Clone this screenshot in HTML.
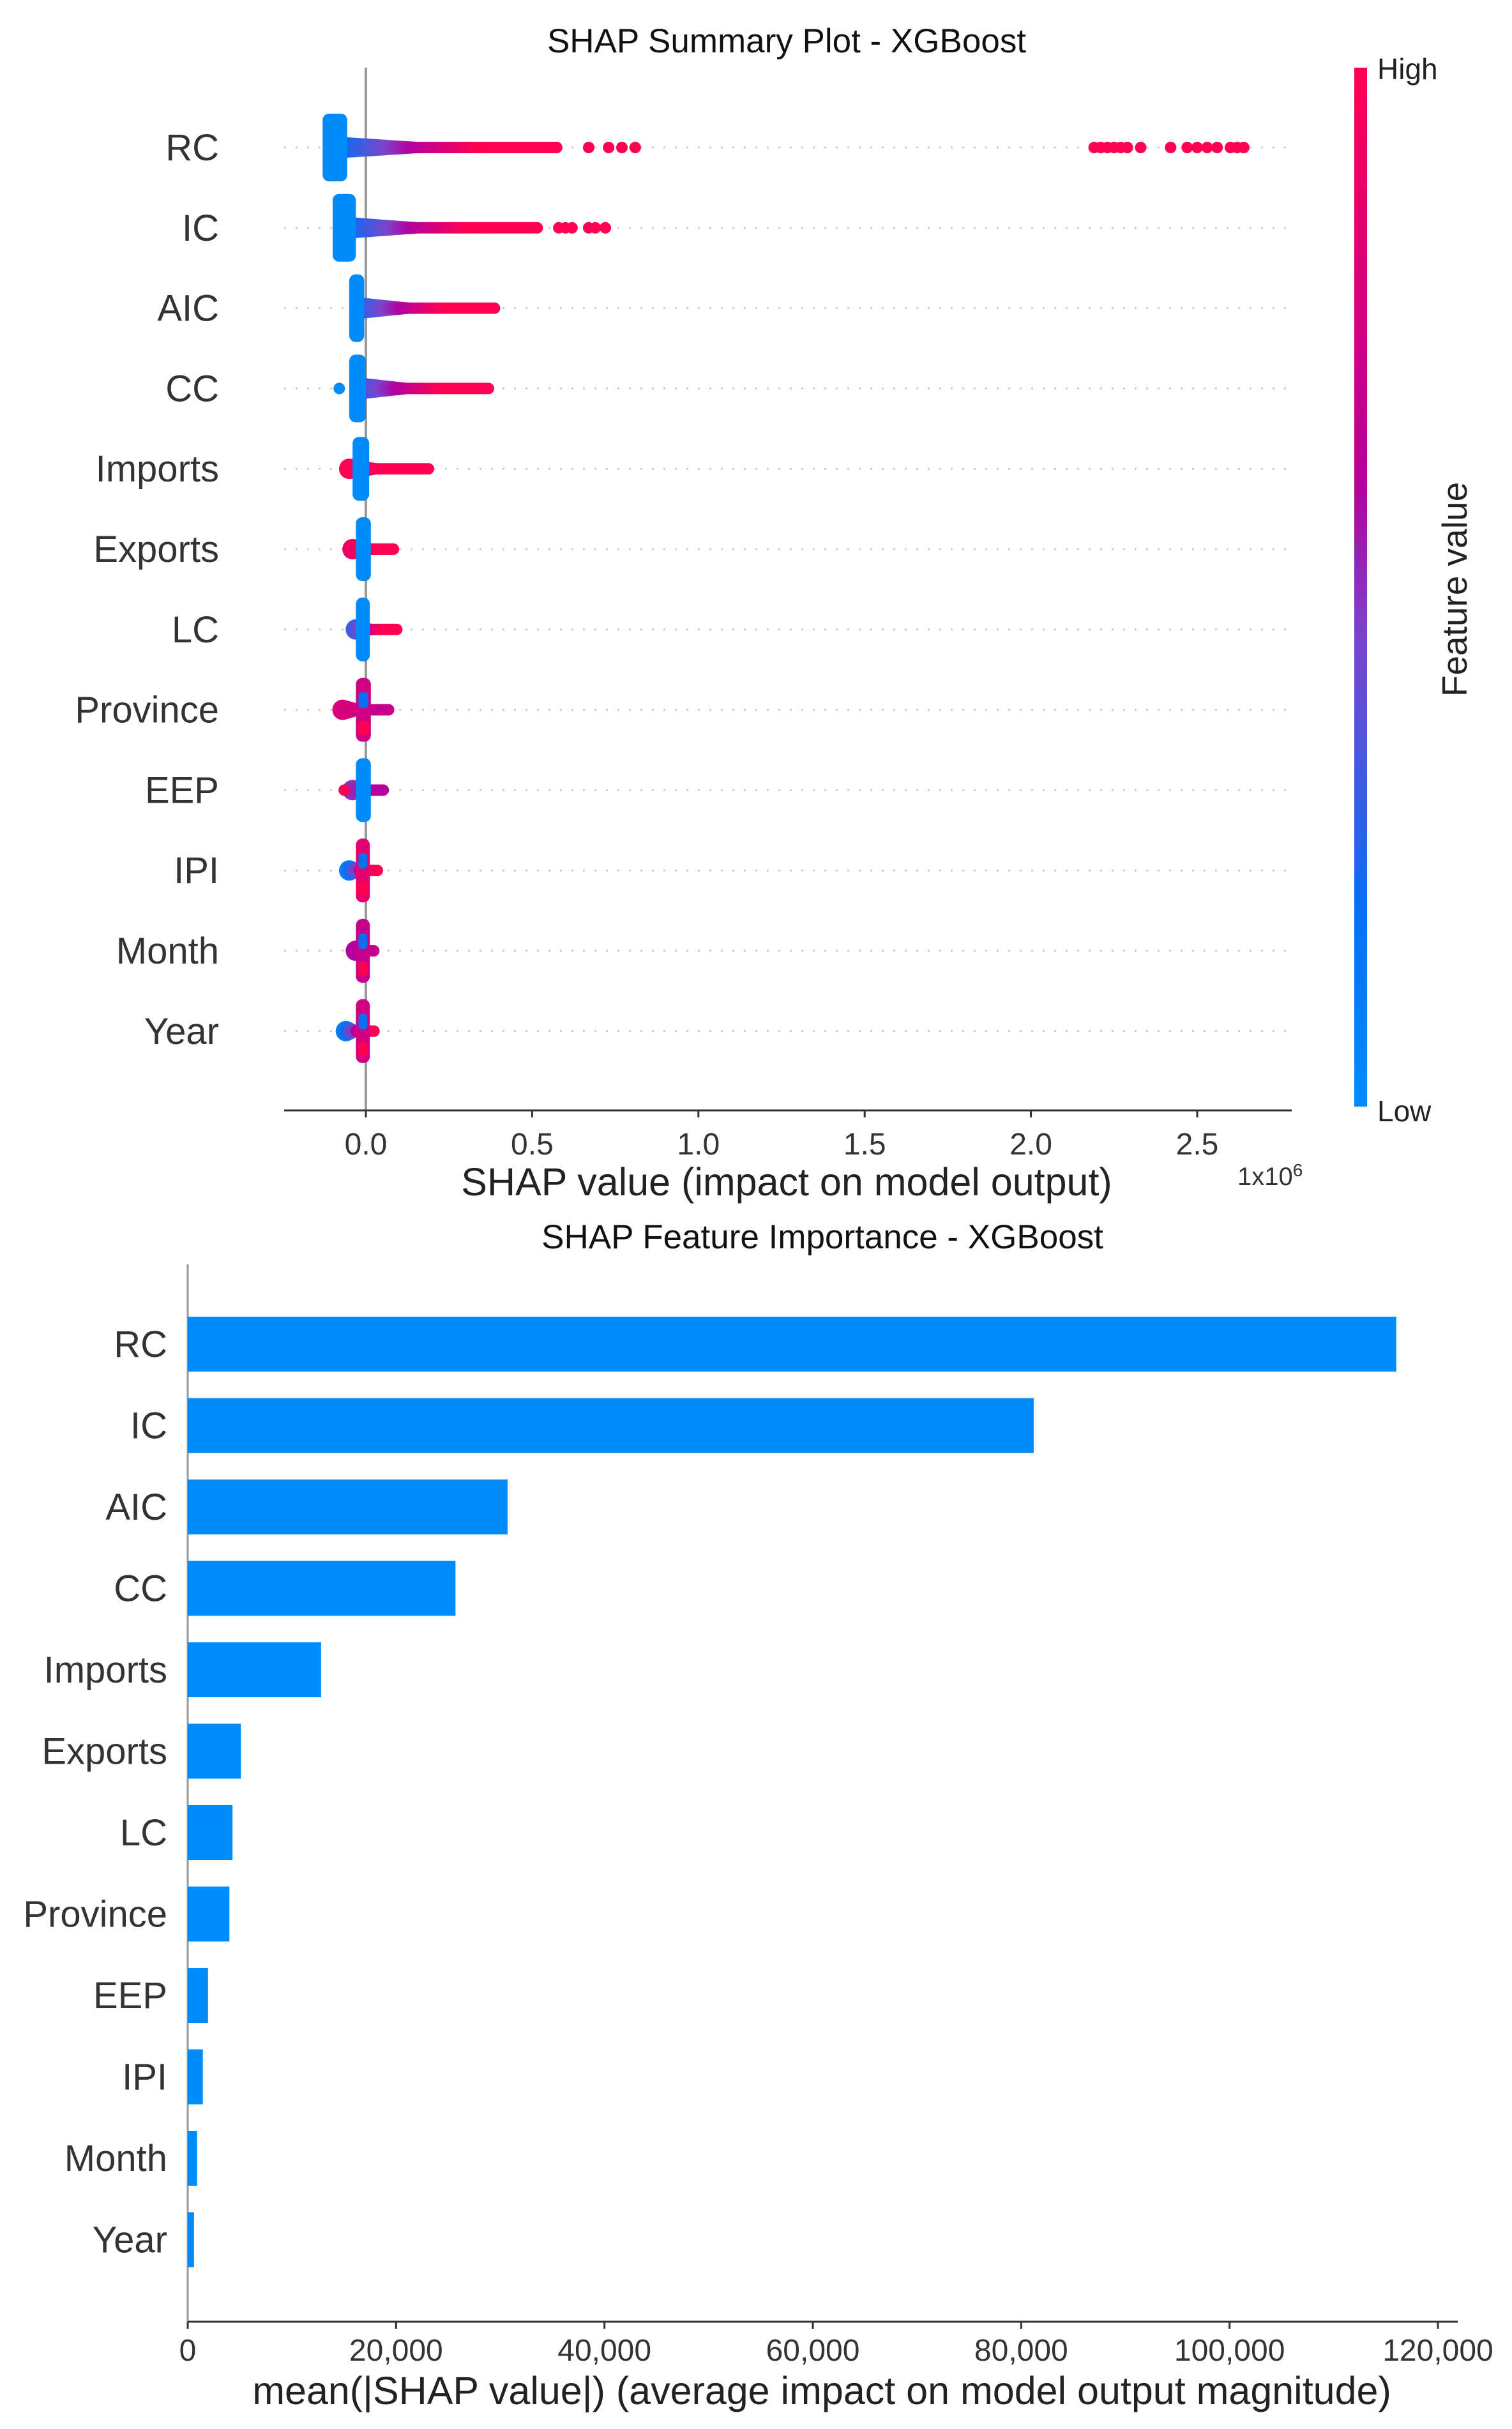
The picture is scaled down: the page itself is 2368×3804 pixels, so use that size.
<!DOCTYPE html>
<html><head><meta charset="utf-8"><style>
html,body{margin:0;padding:0;background:#fff;}
svg{display:block;font-family:"Liberation Sans",sans-serif;}
</style></head><body>
<svg id="root" width="2368" height="3804" viewBox="0 0 2368 3804" xmlns="http://www.w3.org/2000/svg">
<defs>
<linearGradient id="cbar" x1="0" y1="1" x2="0" y2="0">
<stop offset="0" stop-color="#008bfb"/><stop offset="0.2" stop-color="#0a6ef2"/><stop offset="0.45" stop-color="#7a45cc"/><stop offset="0.6" stop-color="#b3009f"/><stop offset="1" stop-color="#ff0052"/>
</linearGradient>
</defs>
<g id="topChart"></g>
<g id="botChart"></g>
</svg>
<script>
// ---------- shared data ----------
const features = ["RC","IC","AIC","CC","Imports","Exports","LC","Province","EEP","IPI","Month","Year"];
// beeswarm (SHAP values in units of 1e6)
const blobLo = [-0.13,-0.10,-0.05,-0.05,-0.04,-0.03,-0.03,-0.03,-0.03,-0.03,-0.03,-0.03];
const blobHi = [-0.056,-0.03,-0.005,0.0,0.01,0.015,0.012,0.015,0.015,0.012,0.012,0.012];
const blobColor = [0,0,0,0,0,0,0,0.75,0,0.85,0.7,0.75];
const bandStart = [-0.056,-0.03,-0.005,0.0,-0.05,-0.04,-0.03,-0.07,-0.04,-0.05,-0.03,-0.06];
const bandEnd = [0.58,0.52,0.39,0.37,0.19,0.085,0.10,0.075,0.055,0.04,0.03,0.03];
const bandC0 = [0.2,0.2,0.25,0.3,1,0.9,0.3,0.8,0.5,0.1,0.6,0.1];
const bandC1 = [1,1,1,1,1,1,1,0.7,0.6,1,0.7,1];
const outliers = [
 [0.67,0.73,0.77,0.81,2.19,2.21,2.23,2.25,2.27,2.29,2.33,2.42,2.47,2.50,2.53,2.56,2.60,2.62,2.64],
 [0.58,0.60,0.62,0.67,0.69,0.72],
 [],[-0.08],[],[],[],[],[-0.065],[],[],[]
];
const xTicks = [0.0,0.5,1.0,1.5,2.0,2.5];
const xTickLabels = ["0.0","0.5","1.0","1.5","2.0","2.5"];
// importance bars
const meanAbs = [116000,81200,30700,25700,12800,5100,4300,4000,1950,1450,900,600];
const barTicks = [0,20000,40000,60000,80000,100000,120000];
const barTickLabels = ["0","20,000","40,000","60,000","80,000","100,000","120,000"];

const NS="http://www.w3.org/2000/svg";
function mk(parent,tag,attrs,text){const e=document.createElementNS(NS,tag);for(const k in attrs)e.setAttribute(k,attrs[k]);if(text!==undefined)e.textContent=text;parent.appendChild(e);return e;}
function lerp(a,b,t){return a+(b-a)*t;}
const stops=[[0,[0,139,251]],[0.2,[10,110,242]],[0.45,[122,69,204]],[0.6,[179,0,159]],[1,[255,0,82]]];
function cmap(t){t=Math.max(0,Math.min(1,t));for(let i=1;i<stops.length;i++){if(t<=stops[i][0]){const a=stops[i-1],b=stops[i];const u=(t-a[0])/(b[0]-a[0]);const c=a[1].map((v,j)=>Math.round(lerp(v,b[1][j],u)));return `rgb(${c[0]},${c[1]},${c[2]})`;}}return "rgb(255,0,82)";}

// ---------- top chart ----------
const topG=document.getElementById('topChart');
const X0=573, PX=520.8; // px per 1e6
const sx=v=>X0+v*PX;
const rowY0=231, rowStep=125.8;
const sy=i=>rowY0+i*rowStep;
const t1=mk(topG,'text',{x:1232,y:82,'text-anchor':'middle','font-size':53,fill:'#111'},'SHAP Summary Plot - XGBoost');


features.forEach((f,i)=>{
 const y=sy(i);
 const g=mk(topG,'line',{x1:445,x2:2023,y1:y,y2:y,stroke:'#ccc','stroke-width':3,'stroke-dasharray':'3 15'});
 
 
 const l=mk(topG,'text',{x:343,y:y+20,'text-anchor':'end','font-size':58,fill:'#333'},f);
 
 
});
const zl=mk(topG,'line',{x1:X0,x2:X0,y1:106,y2:1739,stroke:'#999','stroke-width':4});


features.forEach((f,i)=>{
 const y=sy(i);
 const grp=mk(topG,'g',{});
 
 
 const a=sx(bandStart[i]), b=sx(bandEnd[i]);
 for(let x=a;x<=b;x+=4){
  const t=(x-a)/Math.max(1,b-a);
  const c=cmap(lerp(bandC0[i],bandC1[i],Math.min(1,t*1.6)));
  const th=Math.max(0,14*(1-t*3));
  mk(grp,'circle',{cx:x,cy:y,r:9+th*0.5,fill:c});
 }
 const bl=sx(blobLo[i]), bh=sx(blobHi[i]);
 const hh = i<4?53:50;
 mk(grp,'rect',{x:bl,y:y-hh,width:Math.max(18,bh-bl),height:2*hh,rx:10,fill:cmap(blobColor[i])});
 if(blobColor[i]>0){
  mk(grp,'rect',{x:bl+4,y:y-hh*0.55,width:Math.max(10,bh-bl-8),height:hh*0.5,rx:6,fill:cmap(0.2)});
  mk(grp,'rect',{x:bl+3,y:y+hh*0.35,width:Math.max(12,bh-bl-6),height:hh*0.45,rx:6,fill:cmap(1)});
 }
 outliers[i].forEach(v=>mk(grp,'circle',{cx:sx(v),cy:y,r:9,fill:cmap(i===3?0:1)}));
});
const ax=mk(topG,'line',{x1:445,x2:2023,y1:1739,y2:1739,stroke:'#333','stroke-width':3});


xTicks.forEach((v,k)=>{
 mk(topG,'line',{x1:sx(v),x2:sx(v),y1:1739,y2:1750,stroke:'#333','stroke-width':3});
 const tl=mk(topG,'text',{x:sx(v),y:1808,'text-anchor':'middle','font-size':48,fill:'#333'},xTickLabels[k]);
 
 
});
const xl=mk(topG,'text',{x:1232,y:1872,'text-anchor':'middle','font-size':61,fill:'#222'},'SHAP value (impact on model output)');


const ex=mk(topG,'text',{x:1938,y:1856,'font-size':40,fill:'#333'});


ex.appendChild(document.createTextNode('1x10'));
mk(ex,'tspan',{dy:-14,'font-size':28},'6');
const cb=mk(topG,'rect',{x:2121,y:106,width:20,height:1627,fill:'url(#cbar)'});


const hi=mk(topG,'text',{x:2157,y:124,'font-size':46,fill:'#222'},'High');


const lo=mk(topG,'text',{x:2157,y:1756,'font-size':46,fill:'#222'},'Low');


const fv=mk(topG,'text',{x:0,y:0,transform:'translate(2297,923) rotate(-90)','text-anchor':'middle','font-size':55,fill:'#222'},'Feature value');



// ---------- bottom chart ----------
const botG=document.getElementById('botChart');
const BX0=294, BPX=(2252-294)/120000;
const bx=v=>BX0+v*BPX;
const by=i=>2105+i*127.5;
const t2=mk(botG,'text',{x:1288,y:1955,'text-anchor':'middle','font-size':53,fill:'#111'},'SHAP Feature Importance - XGBoost');


const ls=mk(botG,'line',{x1:BX0,x2:BX0,y1:1980,y2:3636,stroke:'#999','stroke-width':3});


features.forEach((f,i)=>{
 const r=mk(botG,'rect',{x:BX0,y:by(i)-43,width:bx(meanAbs[i])-BX0,height:86,fill:'#008bfb'});
 
 
 const l=mk(botG,'text',{x:262,y:by(i)+20,'text-anchor':'end','font-size':58,fill:'#333'},f);
 
 
});
const bax=mk(botG,'line',{x1:BX0,x2:2283,y1:3636,y2:3636,stroke:'#333','stroke-width':3});


barTicks.forEach((v,k)=>{
 mk(botG,'line',{x1:bx(v),x2:bx(v),y1:3636,y2:3647,stroke:'#333','stroke-width':3});
 const tl=mk(botG,'text',{x:bx(v),y:3697,'text-anchor':'middle','font-size':48,fill:'#333'},barTickLabels[k]);
 
 
});
const bxl=mk(botG,'text',{x:1287,y:3765,'text-anchor':'middle','font-size':61,fill:'#222'},'mean(|SHAP value|) (average impact on model output magnitude)');


</script>
</body></html>
